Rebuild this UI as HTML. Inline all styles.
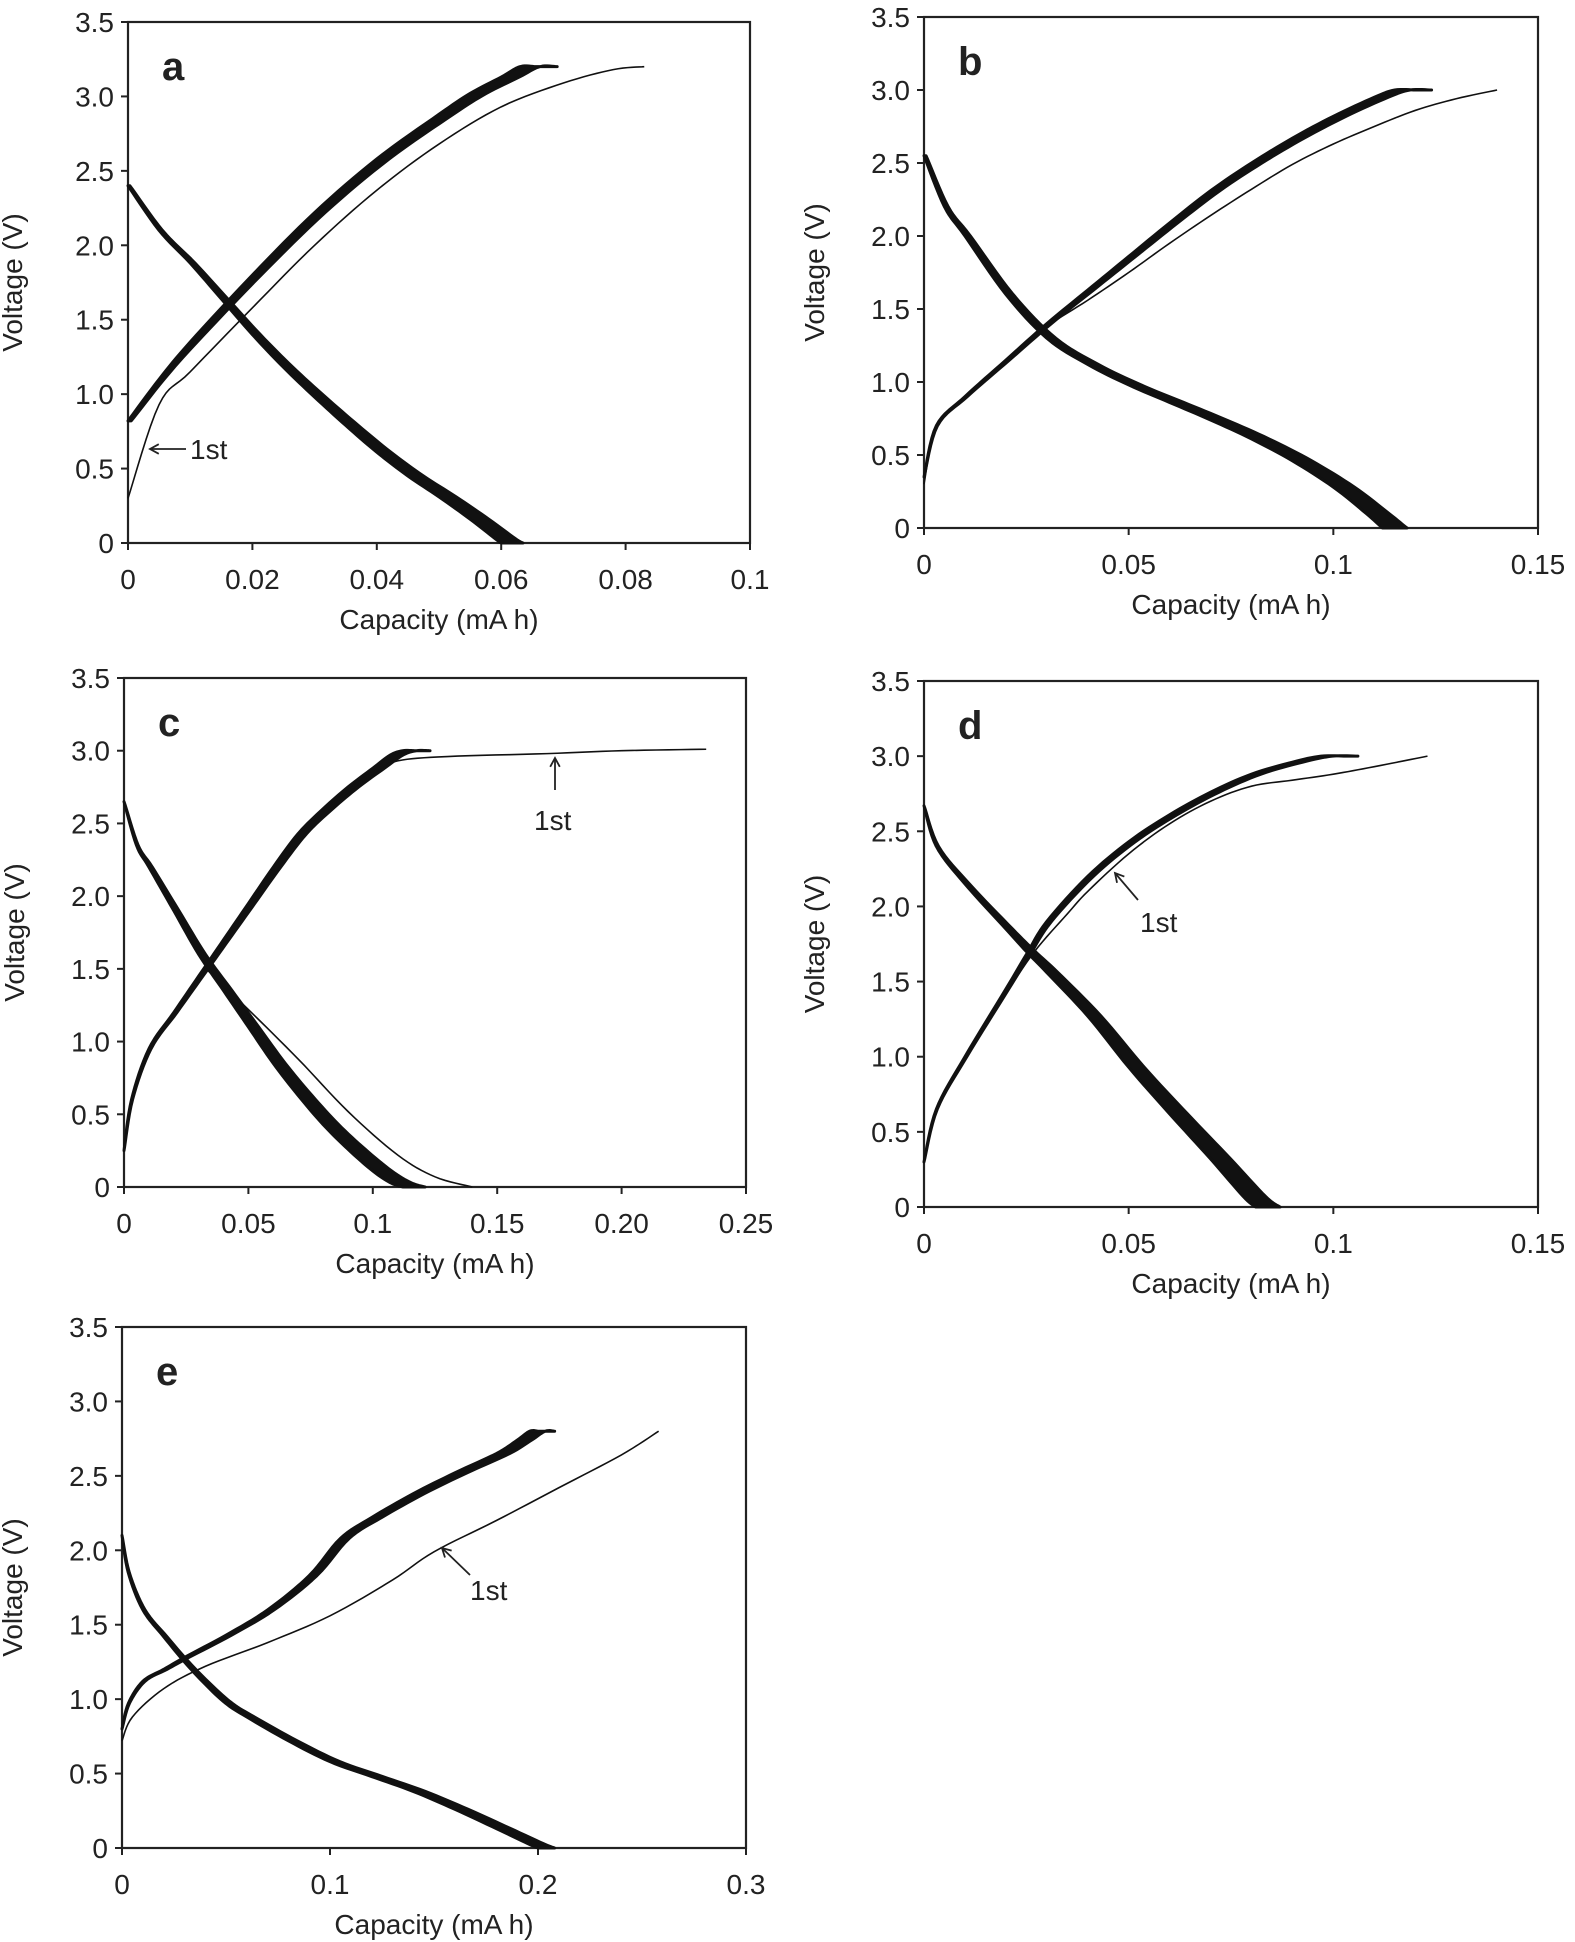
<!DOCTYPE html>
<html><head><meta charset="utf-8"><style>
html,body{margin:0;padding:0;background:#fff}
svg{display:block}
text{font-family:"Liberation Sans",Arial,sans-serif;fill:#222}
</style></head><body>
<svg id="s" width="1575" height="1942" viewBox="0 0 1575 1942" xmlns="http://www.w3.org/2000/svg"></svg>
<script>
var S=document.getElementById('s'),out='';
function smooth(pts){
 var r=[],n=pts.length;
 for(var i=0;i<n-1;i++){
  var p0=pts[Math.max(0,i-1)],p1=pts[i],p2=pts[i+1],p3=pts[Math.min(n-1,i+2)];
  for(var k=0;k<8;k++){var t=k/8,t2=t*t,t3=t2*t;
   var f=function(a,b,c,d){return 0.5*((2*b)+(-a+c)*t+(2*a-5*b+4*c-d)*t2+(-a+3*b-3*c+d)*t3)};
   r.push([f(p0[0],p1[0],p2[0],p3[0]),f(p0[1],p1[1],p2[1],p3[1])]);}
 }
 r.push(pts[n-1]);return r;
}
function P(p){
 var L=p.L,R=p.R,T=p.T,B=p.B;
 function X(v){return L+(R-L)*v/p.xmax}
 function Y(v){return B-(B-T)*v/3.5}
 var o='';
 o+='<rect x="'+L+'" y="'+T+'" width="'+(R-L)+'" height="'+(B-T)+'" fill="none" stroke="#222" stroke-width="2.2"/>';
 for(var i=0;i<=7;i++){var v=i*0.5,y=Y(v);
  o+='<line x1="'+(L-7)+'" y1="'+y+'" x2="'+L+'" y2="'+y+'" stroke="#222" stroke-width="2"/>';
  o+='<text x="'+(L-14)+'" y="'+(y+10)+'" font-size="28" text-anchor="end">'+(i==0?'0':v.toFixed(1))+'</text>';}
 p.xt.forEach(function(t){var x=X(t[0]);
  o+='<line x1="'+x+'" y1="'+B+'" x2="'+x+'" y2="'+(B+7)+'" stroke="#222" stroke-width="2"/>';
  o+='<text x="'+x+'" y="'+(B+46)+'" font-size="28" text-anchor="middle">'+t[1]+'</text>';});
 o+='<text x="'+((L+R)/2)+'" y="'+(B+86)+'" font-size="28" text-anchor="middle">Capacity (mA h)</text>';
 var yl=L-(p.yo||96),yc=(T+B)/2;
 o+='<text x="'+yl+'" y="'+yc+'" font-size="28" text-anchor="middle" transform="rotate(-90 '+yl+' '+yc+')">Voltage (V)</text>';
 o+='<text x="'+(L+34)+'" y="'+(T+58)+'" font-size="40" font-weight="bold" fill="#111">'+p.lab+'</text>';
 function band(pts,dx0,dx1){
  pts=smooth(pts);
  var a=[],b=[],n=pts.length;
  for(var i=0;i<n;i++){var t=i/(n-1),d=dx0+(dx1-dx0)*t;
   a.push(X(pts[i][0])+','+Y(pts[i][1]));
   b.unshift(X(pts[i][0]+d)+','+Y(pts[i][1]));}
  o+='<polygon points="'+a.concat(b).join(' ')+'" fill="#111" stroke="#111" stroke-width="3" stroke-linejoin="round"/>';
 }
 function line(pts,w){pts=smooth(pts);o+='<polyline points="'+pts.map(function(q){return X(q[0])+','+Y(q[1])}).join(' ')+'" fill="none" stroke="#111" stroke-width="'+(w||1.6)+'"/>';}
 p.bands.forEach(function(b){band(b[0],b[1],b[2])});
 p.lines.forEach(function(l){line(l)});
 p.ann.forEach(function(a){
  o+='<line x1="'+a[0]+'" y1="'+a[1]+'" x2="'+a[2]+'" y2="'+a[3]+'" stroke="#222" stroke-width="1.8"/>';
  var ang=Math.atan2(a[3]-a[1],a[2]-a[0]),h=10;
  var p1=[a[2]-h*Math.cos(ang-0.5),a[3]-h*Math.sin(ang-0.5)],p2=[a[2]-h*Math.cos(ang+0.5),a[3]-h*Math.sin(ang+0.5)];
  o+='<polyline points="'+p1.join(',')+' '+a[2]+','+a[3]+' '+p2.join(',')+'" fill="none" stroke="#222" stroke-width="1.8"/>';
  o+='<text x="'+a[4]+'" y="'+a[5]+'" font-size="28">1st</text>';});
 out+=o;
}
// a
P({L:128,R:750,T:22,B:543,xmax:0.1,lab:'a',yo:106,
 xt:[[0,'0'],[0.02,'0.02'],[0.04,'0.04'],[0.06,'0.06'],[0.08,'0.08'],[0.1,'0.1']],
 bands:[
  [[[0,0.82],[0.005,1.1],[0.01,1.35],[0.02,1.8],[0.03,2.22],[0.04,2.58],[0.05,2.88],[0.055,3.02],[0.06,3.13],[0.063,3.2],[0.0655,3.2]],0.0005,0.0035],
  [[[0,2.4],[0.005,2.1],[0.01,1.88],[0.015,1.64],[0.02,1.4],[0.025,1.18],[0.03,0.98],[0.035,0.79],[0.04,0.61],[0.045,0.45],[0.05,0.31],[0.055,0.16],[0.059,0.03],[0.06,0]],0.0003,0.0035]],
 lines:[[[0,0.3],[0.005,0.93],[0.01,1.15],[0.02,1.58],[0.03,2.0],[0.04,2.37],[0.05,2.68],[0.06,2.93],[0.07,3.09],[0.078,3.18],[0.083,3.2]]],
 ann:[[186,449,150,449,190,459]]});
// b
P({L:924,R:1538,T:17,B:528,xmax:0.15,lab:'b',yo:100,
 xt:[[0,'0'],[0.05,'0.05'],[0.1,'0.1'],[0.15,'0.15']],
 bands:[
  [[[0,0.35],[0.003,0.7],[0.01,0.9],[0.02,1.15],[0.03,1.4],[0.04,1.63],[0.05,1.86],[0.06,2.09],[0.07,2.31],[0.08,2.5],[0.09,2.67],[0.1,2.82],[0.11,2.95],[0.115,3.0],[0.12,3.0]],0.0,0.004],
  [[[0,2.55],[0.005,2.2],[0.01,2.0],[0.02,1.6],[0.03,1.3],[0.04,1.12],[0.05,0.98],[0.06,0.86],[0.07,0.74],[0.08,0.61],[0.09,0.46],[0.1,0.28],[0.108,0.1],[0.112,0]],0.0005,0.006]],
 lines:[[[0,0.3],[0.003,0.7],[0.01,0.9],[0.02,1.15],[0.03,1.38],[0.04,1.56],[0.05,1.75],[0.06,1.95],[0.07,2.14],[0.08,2.32],[0.09,2.49],[0.1,2.63],[0.11,2.75],[0.12,2.86],[0.13,2.94],[0.14,3.0]]],
 ann:[]});
// c
P({L:124,R:746,T:678,B:1187,xmax:0.25,lab:'c',yo:100,
 xt:[[0,'0'],[0.05,'0.05'],[0.1,'0.1'],[0.15,'0.15'],[0.2,'0.20'],[0.25,'0.25']],
 bands:[
  [[[0,0.25],[0.003,0.6],[0.01,0.95],[0.02,1.2],[0.03,1.45],[0.04,1.7],[0.05,1.95],[0.06,2.2],[0.07,2.43],[0.08,2.6],[0.09,2.75],[0.1,2.88],[0.107,2.97],[0.112,3.0],[0.117,3.0]],0.0,0.006],
  [[[0,2.65],[0.005,2.35],[0.01,2.2],[0.02,1.9],[0.03,1.6],[0.04,1.35],[0.05,1.1],[0.06,0.85],[0.07,0.63],[0.08,0.43],[0.09,0.26],[0.1,0.11],[0.107,0.03],[0.112,0]],0.0,0.009]],
 lines:[[[0,0.25],[0.003,0.6],[0.01,0.95],[0.02,1.2],[0.03,1.45],[0.04,1.7],[0.05,1.95],[0.06,2.2],[0.07,2.42],[0.08,2.58],[0.09,2.72],[0.1,2.85],[0.11,2.93],[0.13,2.96],[0.17,2.98],[0.2,3.0],[0.234,3.01]],
  [[0.033,1.5],[0.05,1.22],[0.07,0.88],[0.09,0.52],[0.11,0.22],[0.125,0.07],[0.14,0]]],
 ann:[[555,790,555,758,534,830]]});
// d
P({L:924,R:1538,T:681,B:1207,xmax:0.15,lab:'d',yo:100,
 xt:[[0,'0'],[0.05,'0.05'],[0.1,'0.1'],[0.15,'0.15']],
 bands:[
  [[[0,0.3],[0.003,0.65],[0.01,1.0],[0.02,1.45],[0.025,1.68],[0.03,1.9],[0.04,2.2],[0.05,2.43],[0.06,2.61],[0.07,2.76],[0.08,2.88],[0.09,2.96],[0.097,3.0],[0.103,3.0]],0.0,0.003],
  [[[0,2.67],[0.003,2.4],[0.01,2.15],[0.02,1.85],[0.025,1.7],[0.03,1.56],[0.04,1.27],[0.05,0.93],[0.06,0.62],[0.07,0.32],[0.078,0.07],[0.081,0]],0.0,0.006]],
 lines:[[[0.02,1.42],[0.027,1.7],[0.035,1.95],[0.04,2.1],[0.05,2.35],[0.06,2.55],[0.07,2.7],[0.08,2.8],[0.09,2.84],[0.1,2.88],[0.11,2.93],[0.123,3.0]]],
 ann:[[1138,900,1115,873,1140,932]]});
// e
P({L:122,R:746,T:1327,B:1848,xmax:0.3,lab:'e',yo:100,
 xt:[[0,'0'],[0.1,'0.1'],[0.2,'0.2'],[0.3,'0.3']],
 bands:[
  [[[0,0.8],[0.003,0.97],[0.01,1.12],[0.02,1.2],[0.03,1.28],[0.05,1.43],[0.07,1.6],[0.09,1.83],[0.105,2.08],[0.12,2.22],[0.14,2.38],[0.16,2.52],[0.18,2.65],[0.19,2.74],[0.196,2.8],[0.2,2.8]],0.0,0.008],
  [[[0,2.1],[0.003,1.85],[0.01,1.6],[0.02,1.42],[0.03,1.25],[0.04,1.1],[0.05,0.97],[0.06,0.88],[0.08,0.72],[0.1,0.58],[0.12,0.48],[0.14,0.38],[0.16,0.26],[0.18,0.13],[0.195,0.03],[0.2,0]],0.0,0.008]],
 lines:[[[0,0.72],[0.005,0.88],[0.02,1.07],[0.04,1.22],[0.07,1.38],[0.1,1.56],[0.13,1.8],[0.15,1.99],[0.18,2.2],[0.21,2.42],[0.24,2.64],[0.258,2.8]]],
 ann:[[470,1575,442,1548,470,1600]]});
S.innerHTML=out;
</script>
</body></html>
